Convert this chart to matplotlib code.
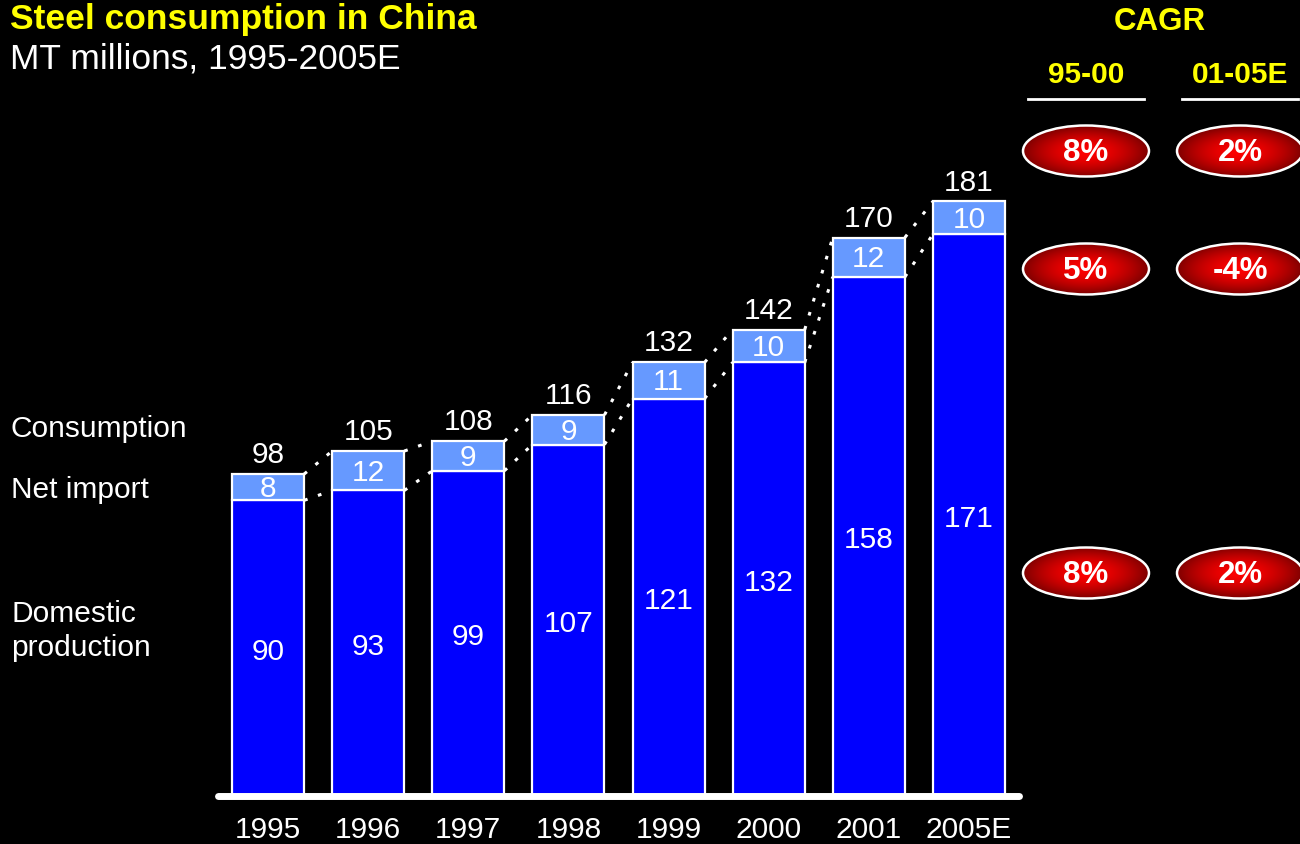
import numpy as np
import matplotlib
matplotlib.use("Agg")
import matplotlib.pyplot as plt
from matplotlib.patches import Ellipse

plt.rcParams['font.family'] = ['Liberation Sans', 'DejaVu Sans']

years = ["1995", "1996", "1997", "1998", "1999", "2000", "2001", "2005E"]
domestic = [90, 93, 99, 107, 121, 132, 158, 171]
net_import = [8, 12, 9, 9, 11, 10, 12, 10]
consumption = [98, 105, 108, 116, 132, 142, 170, 181]

row_labels = ["Consumption", "Net import", "Domestic\nproduction"]
cagr_periods = ["95-00", "01-05E"]
cagr_95_00 = ["8%", "5%", "8%"]
cagr_01_05 = ["2%", "-4%", "2%"]

W, H = 1300, 845
fig = plt.figure(figsize=(W / 100, H / 100), dpi=100, facecolor="black")

# main bar axes, positioned in pixels
x0, x1, yb, yt = 218, 1019, 797, 140
ax = fig.add_axes([x0 / W, (H - yb) / H, (x1 - x0) / W, (yb - yt) / H])
ax.set_facecolor("black")
ymax = 200
ax.set_xlim(-0.5, 7.5)
ax.set_ylim(0, ymax)
for s in ax.spines.values():
    s.set_visible(False)
ax.set_yticks([])

x = np.arange(len(years))
bw = 0.72
dom_color = "#0000FF"
imp_color = "#6699FF"
ax.bar(x, domestic, width=bw, color=dom_color, edgecolor="white", linewidth=1.6, zorder=2)
ax.bar(x, net_import, bottom=domestic, width=bw, color=imp_color, edgecolor="white",
       linewidth=1.6, zorder=2)

fs = 21.5
nudge = 0.8  # small downward shift of in-bar labels, in data units
for i in range(len(years)):
    ax.text(x[i], domestic[i] / 2 - nudge, str(domestic[i]), ha="center", va="center",
            color="white", fontsize=fs, zorder=3)
    ax.text(x[i], domestic[i] + net_import[i] / 2 - 0.3, str(net_import[i]), ha="center",
            va="center", color="white", fontsize=fs, zorder=3)
    ax.text(x[i], consumption[i] + 1.8, str(consumption[i]), ha="center", va="bottom",
            color="white", fontsize=fs, zorder=3)

# dotted connectors between neighbouring bars
for i in range(len(years) - 1):
    xa, xb = x[i] + bw / 2, x[i + 1] - bw / 2
    tot_a = domestic[i] + net_import[i]
    tot_b = domestic[i + 1] + net_import[i + 1]
    ax.plot([xa, xb], [tot_a, tot_b], color="white", lw=2.2, linestyle=(0, (1.2, 3.6)),
            zorder=1)
    ax.plot([xa, xb], [domestic[i], domestic[i + 1]], color="white", lw=2.2,
            linestyle=(0, (1.2, 3.6)), zorder=1)

# baseline
ax.plot([-0.5, 7.5], [0, 0], color="white", lw=5, solid_capstyle="round", clip_on=False,
        zorder=4)
ax.set_xticks(x)
ax.set_xticklabels(years, color="white", fontsize=fs)
ax.tick_params(axis="x", length=0, pad=14)

# overlay axes in pixel coordinates for titles, labels and CAGR badges
ov = fig.add_axes([0, 0, 1, 1])
ov.set_xlim(0, W)
ov.set_ylim(H, 0)
ov.axis("off")
ov.patch.set_alpha(0)

ov.text(10, 19, "Steel consumption in China", color="#FFFF00", fontsize=25.5,
        fontweight="bold", ha="left", va="center")
ov.text(10, 59, "MT millions, 1995-2005E", color="white", fontsize=25.5,
        ha="left", va="center")

ov.text(11, 429, row_labels[0], color="white", fontsize=fs, ha="left", va="center")
ov.text(11, 490, row_labels[1], color="white", fontsize=fs, ha="left", va="center")
ov.text(11, 631, row_labels[2], color="white", fontsize=fs, ha="left", va="center",
        linespacing=1.3)

ov.text(1160, 22, "CAGR", color="#FFFF00", fontsize=22.5, fontweight="bold",
        ha="center", va="center")
col_x = [1086, 1240]
for cx, period in zip(col_x, cagr_periods):
    ov.text(cx, 75, period, color="#FFFF00", fontsize=21.5, fontweight="bold",
            ha="center", va="center")
    ov.plot([cx - 58, cx + 58], [100, 100], color="white", lw=2)

# radial red gradient image
n = 200
gx, gy = np.meshgrid(np.linspace(-1, 1, n), np.linspace(-1, 1, n))
r = np.clip(np.sqrt(gx ** 2 + gy ** 2), 0, 1)
grad = np.zeros((n, n, 3))
grad[..., 0] = 1.0 - 0.5 * r ** 1.6
grad[..., 1] = 0.0
grad[..., 2] = 0.0

row_y = [152, 270, 574]
ew, eh = 126, 51
for cx, vals in zip(col_x, [cagr_95_00, cagr_01_05]):
    for cy, v in zip(row_y, vals):
        ell = Ellipse((cx, cy), ew, eh, facecolor="none", edgecolor="white", lw=1.8,
                      zorder=3)
        ov.add_patch(ell)
        im = ov.imshow(grad, extent=[cx - ew / 2, cx + ew / 2, cy + eh / 2, cy - eh / 2],
                       zorder=2, aspect="auto", interpolation="bilinear")
        clip = Ellipse((cx, cy), ew, eh, transform=ov.transData)
        im.set_clip_path(clip)
        ov.text(cx, cy + 1, v, color="white", fontsize=22.5, fontweight="bold",
                ha="center", va="center", zorder=4)

ov.set_xlim(0, W)
ov.set_ylim(H, 0)

fig.savefig("out.png", dpi=100, facecolor="black")
